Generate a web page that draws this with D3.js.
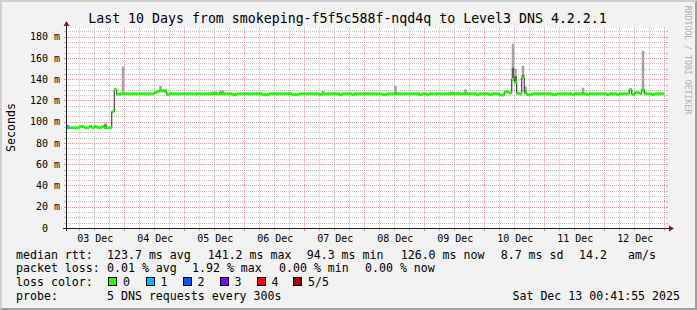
<!DOCTYPE html>
<html>
<head>
<meta charset="utf-8">
<script src="https://cdn.jsdelivr.net/npm/d3@7"></script>
<style>
html, body { margin: 0; padding: 0; background: #f2f2f2; }
svg { display: block; }
text { font-family: "DejaVu Sans Mono", monospace; white-space: pre; }
</style>
</head>
<body>
<svg id="chart" width="697" height="310"></svg>
<script>
const title = "Last 10 Days from smokeping-f5f5c588f-nqd4q to Level3 DNS 4.2.2.1";
const startTime = Date.UTC(2025, 11, 3, 0, 41, 55);
const endTime = Date.UTC(2025, 11, 13, 0, 41, 55);
const firstHour = Date.UTC(2025, 11, 3, 0, 0, 0);

// hourly median rtt in ms, one row per day (03 Dec .. 12 Dec)
const median = [
  94.5, 94.5, 94.3, 94.3, 94.3, 94.3, 95.5, 95.5, 94.3, 94.3, 95.5, 94.3, 95.5, 94.5, 94.3, 95.5, 94.3, 94.3, 94.3, 109.5, 130.0, 125.8, 126.3, 126.3,
  126.3, 126.3, 126.3, 126.3, 126.3, 126.3, 126.3, 126.3, 126.3, 126.3, 126.3, 126.3, 127.5, 128.5, 129.0, 129.0, 128.5, 125.6, 126.3, 126.3, 126.3, 126.3, 126.3, 126.3,
  126.3, 126.3, 126.3, 126.3, 126.3, 126.3, 126.3, 126.3, 126.3, 126.3, 126.3, 126.3, 126.3, 126.3, 126.3, 126.3, 126.3, 126.3, 126.3, 125.5, 125.5, 126.3, 126.3, 126.3,
  126.3, 126.3, 126.3, 126.3, 126.3, 126.3, 126.3, 125.5, 125.5, 125.5, 126.3, 126.3, 126.3, 126.3, 126.3, 126.3, 126.3, 126.3, 126.3, 125.5, 125.5, 125.5, 126.3, 126.3,
  126.3, 126.3, 126.3, 126.3, 126.3, 126.3, 125.5, 126.3, 126.3, 126.3, 126.3, 126.3, 126.3, 126.3, 125.5, 126.3, 126.3, 126.3, 126.3, 125.5, 126.3, 126.3, 126.3, 126.3,
  126.3, 126.3, 126.3, 126.3, 126.3, 126.3, 126.3, 125.5, 125.5, 126.3, 126.3, 126.3, 126.3, 126.3, 126.3, 126.3, 126.3, 126.3, 126.3, 126.3, 126.3, 126.3, 125.5, 126.3,
  126.3, 125.5, 126.3, 126.3, 126.3, 126.3, 126.3, 126.3, 126.3, 126.3, 126.3, 126.3, 126.3, 126.3, 126.3, 126.3, 126.3, 126.3, 126.3, 126.3, 126.3, 125.5, 126.3, 126.3,
  126.3, 126.3, 125.5, 126.3, 126.3, 126.3, 125.2, 125.2, 128.0, 128.0, 127.0, 140.0, 137.0, 126.5, 126.3, 141.2, 127.0, 125.5, 125.5, 126.3, 126.3, 126.3, 126.3, 126.3,
  126.3, 126.3, 126.3, 125.5, 125.5, 126.3, 126.3, 126.3, 126.3, 126.3, 126.3, 125.5, 126.3, 126.3, 126.3, 126.3, 126.3, 125.5, 126.3, 126.3, 126.3, 126.3, 126.3, 126.3,
  126.3, 125.5, 126.3, 126.3, 126.3, 125.5, 126.3, 126.3, 126.3, 126.3, 130.0, 125.5, 127.0, 127.5, 126.5, 130.0, 126.5, 126.3, 126.3, 125.5, 126.3, 126.3, 126.3, 126.3
];

// visible smoke (spread of the pings) per hour index
const smokeHour  = [0, 1, 10, 16, 20, 23, 36, 38, 39, 40, 59, 60, 62, 63, 77, 78, 103, 132, 154, 155, 157, 160, 179, 180, 183, 184, 204, 207, 226, 228, 229, 231, 232];
const smokeMax   = [97.2, 96.8, 96.8, 98.6, 131.6, 152.0, 128.5, 133.8, 130.7, 130.5, 128.5, 128.5, 129.5, 129.5, 127.8, 127.8, 129.0, 133.8, 128.3, 128.3, 128.3, 130.7, 173.4, 149.6, 152.7, 133.0, 127.8, 132.0, 131.5, 128.5, 128.5, 166.8, 128.3];
const smokeInner = [96.8, 96.5, 96.0, 97.0, 130.8, 127.0, 127.8, 130.0, 129.8, 129.0, 127.0, 127.0, 127.5, 127.5, 127.0, 127.0, 127.5, 127.5, 127.3, 127.3, 127.3, 127.5, 150.5, 143.0, 144.0, 129.0, 127.0, 128.0, 130.5, 127.5, 128.0, 131.0, 127.3];

// hours with packet loss (pings lost)
const lossHour = [0, 1];
const lossCount = [1, 1];

const yTicks = [0, 20, 40, 60, 80, 100, 120, 140, 160, 180];
const yTickLabels = ["0  ", "20 m", "40 m", "60 m", "80 m", "100 m", "120 m", "140 m", "160 m", "180 m"];
const dayLabels = ["03 Dec", "04 Dec", "05 Dec", "06 Dec", "07 Dec", "08 Dec", "09 Dec", "10 Dec", "11 Dec", "12 Dec"];

const legendRtt = ["123.7 ms avg", "141.2 ms max", "94.3 ms min", "126.0 ms now", "8.7 ms sd", "14.2", "am/s"];
const legendLoss = ["0.01 % avg", "1.92 % max", "0.00 % min", "0.00 % now"];
const lossLabels = ["0", "1", "2", "3", "4", "5/5"];
const lossColors = ["#26ff00", "#00b8ff", "#0059ff", "#7e00ff", "#ff0000", "#a00000"];
const probeText = "5 DNS requests every 300s";
const stampText = "Sat Dec 13 00:41:55 2025";

const W = 697, H = 310;
const X0 = 66, X1 = 666, Y0 = 228, Y1 = 28;
const HOUR = 3600e3;

const svg = d3.select("#chart");

svg.append("rect").attr("width", W).attr("height", H).attr("fill", "#f2f2f2");
svg.append("path").attr("d", `M0,0H${W}L${W-2},2H2V${H-2}L0,${H}Z`).attr("fill", "#cfcfcf");
svg.append("path").attr("d", `M${W},0V${H}H0L2,${H-2}H${W-2}V2Z`).attr("fill", "#9e9e9e");

const x = d3.scaleUtc().domain([startTime, endTime]).range([X0, X1]);
const y = d3.scaleLinear().domain([0, 188.2]).range([Y0, Y1]);

svg.append("rect").attr("x", X0).attr("y", Y1).attr("width", X1 - X0).attr("height", Y0 - Y1).attr("fill", "#ffffff");

svg.append("clipPath").attr("id", "plot")
  .append("rect").attr("x", X0).attr("y", Y1).attr("width", X1 - X0).attr("height", Y0 - Y1);

const px = v => Math.round(v) + 0.5;
const minorCol = "rgba(143,143,143,0.55)";
const majorCol = "rgba(222,79,79,0.6)";

// horizontal grid
const minorY = d3.range(5, 188, 5).filter(v => v % 20 !== 0);
const grid = svg.append("g").attr("shape-rendering", "crispEdges");
function hline(v, col) {
  const yy = px(y(v));
  grid.append("line").attr("x1", X0).attr("x2", X1).attr("y1", yy).attr("y2", yy)
    .attr("stroke", col).attr("stroke-dasharray", "1,1");
  grid.append("line").attr("x1", X0 - 2).attr("x2", X0).attr("y1", yy).attr("y2", yy).attr("stroke", col);
  grid.append("line").attr("x1", X1).attr("x2", X1 + 2).attr("y1", yy).attr("y2", yy).attr("stroke", col);
}
minorY.forEach(v => hline(v, minorCol));
yTicks.filter(v => v > 0).forEach(v => hline(v, majorCol));

// vertical grid
function vline(t, col) {
  const xx = px(x(t));
  grid.append("line").attr("x1", xx).attr("x2", xx).attr("y1", Y1).attr("y2", Y0)
    .attr("stroke", col).attr("stroke-dasharray", "1,1");
  grid.append("line").attr("x1", xx).attr("x2", xx).attr("y1", Y0).attr("y2", Y0 + 3).attr("stroke", col);
}
d3.utcHour.every(6).range(new Date(startTime), new Date(endTime))
  .filter(d => d.getUTCHours() !== 0)
  .forEach(d => vline(d, minorCol));
d3.utcDay.range(new Date(startTime), new Date(endTime)).forEach(d => vline(d, majorCol));

// smoke
const hourX0 = i => Math.max(X0, x(firstHour + i * HOUR));
const hourX1 = i => Math.min(X1, x(firstHour + (i + 1) * HOUR));
const plot = svg.append("g").attr("clip-path", "url(#plot)");

smokeHour.forEach((h, k) => {
  plot.append("rect")
    .attr("x", hourX0(h)).attr("width", hourX1(h) - hourX0(h))
    .attr("y", y(smokeMax[k])).attr("height", y(median[h]) - y(smokeMax[k]))
    .attr("fill", "#a4a4a4");
  plot.append("rect")
    .attr("x", hourX0(h)).attr("width", hourX1(h) - hourX0(h))
    .attr("y", y(smokeInner[k])).attr("height", y(median[h]) - y(smokeInner[k]) + 1)
    .attr("fill", "#5a5a5a");
});

// median line
const pts = median.map((v, i) => [firstHour + i * HOUR, v]);
pts.push([firstHour + median.length * HOUR, median[median.length - 1]]);
plot.append("path")
  .attr("d", d3.line().x(d => x(d[0])).y(d => y(d[1])).curve(d3.curveStepAfter)(pts))
  .attr("fill", "none").attr("stroke", "#202020").attr("stroke-width", 1);

// median band coloured by loss
median.forEach((v, i) => {
  const li = lossHour.indexOf(i);
  const col = li >= 0 ? lossColors[lossCount[li]] : lossColors[0];
  plot.append("rect")
    .attr("x", hourX0(i)).attr("width", hourX1(i) - hourX0(i))
    .attr("y", y(v) - 1.5).attr("height", 3)
    .attr("fill", col);
});

// axes
const axis = svg.append("g").attr("shape-rendering", "crispEdges");
axis.append("line").attr("x1", X0 - 3).attr("x2", X1 + 4).attr("y1", Y0 + 0.5).attr("y2", Y0 + 0.5).attr("stroke", "#1f1f1f");
axis.append("line").attr("x1", X0 + 0.5).attr("x2", X0 + 0.5).attr("y1", Y0 + 3).attr("y2", Y1 - 3).attr("stroke", "#1f1f1f");
svg.append("path").attr("d", `M${X1 + 8},${Y0 + 0.5}L${X1 + 3},${Y0 - 2.5}L${X1 + 3},${Y0 + 3.5}Z`).attr("fill", "#801f1f");
svg.append("path").attr("d", `M${X0 + 0.5},${Y1 - 7}L${X0 - 2.5},${Y1 - 2}L${X0 + 3.5},${Y1 - 2}Z`).attr("fill", "#801f1f");

// tick labels
svg.append("g").selectAll("text").data(yTicks).join("text")
  .attr("x", 60).attr("y", d => y(d) + 3.6)
  .attr("text-anchor", "end").attr("font-size", "10px").attr("fill", "#000")
  .text((d, i) => yTickLabels[i]);

svg.append("g").selectAll("text")
  .data(d3.utcDay.range(new Date(firstHour), new Date(endTime - HOUR)))
  .join("text")
  .attr("x", d => x(+d + 12 * HOUR) + 1).attr("y", 241.6)
  .attr("text-anchor", "middle").attr("font-size", "10px").attr("fill", "#000")
  .text((d, i) => dayLabels[i]);

// title and side texts
svg.append("text").attr("x", 347.5).attr("y", 23.3).attr("text-anchor", "middle")
  .attr("font-size", "13.25px").attr("fill", "#000").text(title);

svg.append("text").attr("transform", "translate(15,127.5) rotate(-90)")
  .attr("text-anchor", "middle").attr("font-size", "11.6px").attr("fill", "#000").text("Seconds");

svg.append("text").attr("transform", "translate(685,60) rotate(90)")
  .attr("text-anchor", "middle").attr("font-size", "8.2px").attr("fill", "#b0b0b0")
  .text("RRDTOOL / TOBI OETIKER");

// legend
const rows = [258.5, 272.3, 286, 299.8];
const lg = svg.append("g").attr("font-size", "11.6px").attr("fill", "#000");
const put = (xx, yy, s) => lg.append("text").attr("x", xx).attr("y", yy).text(s);

put(16, rows[0], "median rtt:");
[107, 207.7, 306.7, 400.7, 500.7, 579, 628].forEach((xx, i) => put(xx, rows[0], legendRtt[i]));

put(16, rows[1], "packet loss:");
[107, 192, 279, 365].forEach((xx, i) => put(xx, rows[1], legendLoss[i]));

put(16, rows[2], "loss color:");
[108, 145.5, 182.5, 219.5, 256.5, 293].forEach((xx, i) => {
  lg.append("rect").attr("x", xx + 0.5).attr("y", 277.5).attr("width", 8).attr("height", 8)
    .attr("fill", lossColors[i]).attr("stroke", "#000").attr("stroke-width", 1)
    .attr("shape-rendering", "crispEdges");
  put(xx + 15, rows[2], lossLabels[i]);
});

put(16, rows[3], "probe:");
put(107, rows[3], probeText);
lg.append("text").attr("x", 680).attr("y", rows[3]).attr("text-anchor", "end").text(stampText);
</script>
</body>
</html>
